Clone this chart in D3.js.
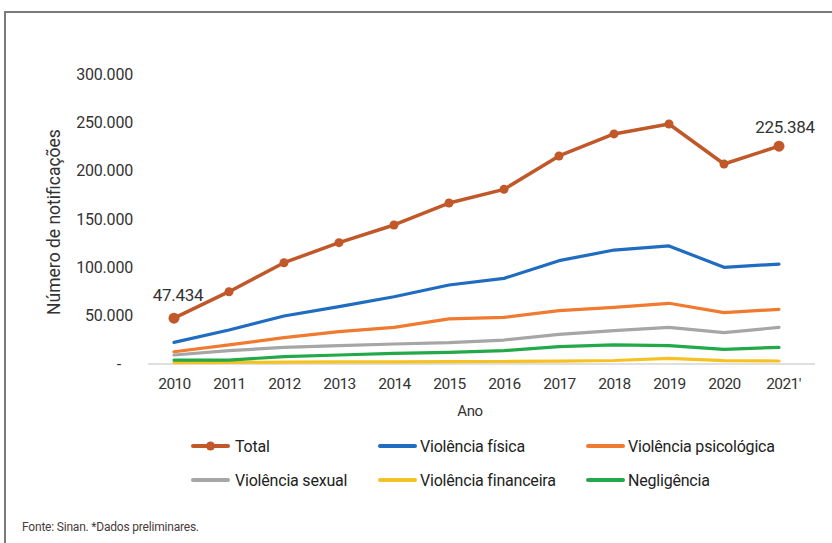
<!DOCTYPE html>
<html><head><meta charset="utf-8">
<script src="https://cdn.jsdelivr.net/npm/d3@7"></script>
<style>
html,body{margin:0;padding:0;background:#fff;}
svg{display:block;font-family:Roboto, "Noto Sans", sans-serif;}
</style></head>
<body>
<svg id="chart" width="832" height="543"></svg>
<script>
const years = ["2010","2011","2012","2013","2014","2015","2016","2017","2018","2019","2020","2021'"];
const yTicks = [0,50000,100000,150000,200000,250000,300000];
const total       = [47434,74800,104800,125500,143800,166500,180700,215200,238000,248300,206900,225384];
const fisica      = [22400,35200,49700,59300,69600,81700,88600,106900,117900,122100,100000,103400];
const psicologica = [12700,19700,27200,33400,37900,46600,48300,55200,58600,62800,53100,56600];
const sexual      = [9300,13800,17200,19000,20700,22100,24800,30700,34500,37900,32400,37900];
const financeira  = [1500,1600,2000,2100,2300,2400,2600,3000,3600,5900,3400,3100];
const negligencia = [4100,4100,7600,9300,11000,12100,13800,17900,19700,19000,15200,17200];
const seriesNames = ["Total","Violência física","Violência psicológica","Violência sexual","Violência financeira","Negligência"];
const seriesColors = ["#C0582A","#1F6CC0","#F07B30","#A6A6A6","#F6C223","#23A84A"];
const seriesData = [total,fisica,psicologica,sexual,financeira,negligencia];

const svg = d3.select("#chart");
// frame
svg.append("path").attr("d","M5,543 V12 H832").attr("fill","none").attr("stroke","#7a7a7a").attr("stroke-width",2);

const x = d3.scalePoint().domain(years).range([174,779]);
const y = d3.scaleLinear().domain([0,300000]).range([364,74]);
const fmt = v => v===0 ? "-" : d3.format(",")(v).replace(/,/g,".");

// baseline
svg.append("line").attr("x1",148).attr("x2",815).attr("y1",y(0)).attr("y2",y(0))
  .attr("stroke","#d4d4d4").attr("stroke-width",1.5);

// y axis
const ya = svg.append("g").attr("transform","translate(133,0)")
  .call(d3.axisLeft(y).tickValues(yTicks).tickSize(0).tickPadding(0).tickFormat(fmt));
ya.select(".domain").remove();
ya.selectAll("text").attr("font-size",16).attr("fill","#333").attr("font-family","Roboto, sans-serif").attr("letter-spacing","-0.2");
ya.selectAll(".tick").filter(d=>d===0).select("text").attr("dx",-12);

// x axis
const xa = svg.append("g").attr("transform",`translate(0,${y(0)})`)
  .call(d3.axisBottom(x).tickSize(0).tickPadding(14));
xa.select(".domain").remove();
xa.selectAll("text").attr("font-size",15.5).attr("fill","#333").attr("font-family","Roboto, sans-serif").attr("letter-spacing","-0.6");
xa.selectAll(".tick").filter(d=>d==="2021'").select("text").attr("dx",4);

// axis titles
svg.append("text").attr("x",470).attr("y",416).attr("text-anchor","middle")
  .attr("font-size",15).attr("fill","#333").attr("letter-spacing","-0.4").text("Ano");
svg.append("text").attr("transform","translate(60,222) rotate(-90)").attr("text-anchor","middle")
  .attr("font-size",17.5).attr("fill","#333").text("Número de notificações");

// lines (draw in order bottom to top: total last)
const line = d3.line().x((d,i)=>x(years[i])).y(d=>y(d));
const order = [4,5,3,2,1,0];
order.forEach(k=>{
  svg.append("path").datum(seriesData[k]).attr("d",line)
    .attr("fill","none").attr("stroke",seriesColors[k])
    .attr("stroke-width", k===0?3.5:3.2).attr("stroke-linejoin","round").attr("stroke-linecap","round");
});
svg.selectAll("circle.pt").data(total).enter().append("circle").attr("class","pt")
  .attr("cx",(d,i)=>x(years[i])).attr("cy",d=>y(d))
  .attr("r",(d,i)=> (i===0||i===years.length-1)?5.5:4.5).attr("fill",seriesColors[0]);

// data labels
svg.append("text").attr("x",x(years[0])+4).attr("y",y(total[0])-17).attr("text-anchor","middle")
  .attr("font-size",17).attr("fill","#333").attr("letter-spacing","-0.3").text(fmt(total[0]));
svg.append("text").attr("x",x(years[11])+6).attr("y",y(total[11])-13).attr("text-anchor","middle")
  .attr("font-size",17).attr("fill","#333").attr("letter-spacing","-0.3").text(fmt(total[11]));

// legend
const legX = [193,380,588], legY = [446,480];
seriesNames.forEach((n,i)=>{
  const lx = legX[i%3], ly = legY[Math.floor(i/3)];
  const g = svg.append("g");
  g.append("line").attr("x1",lx).attr("x2",lx+35).attr("y1",ly).attr("y2",ly)
    .attr("stroke",seriesColors[i]).attr("stroke-width",4).attr("stroke-linecap","round");
  if(i===0) g.append("circle").attr("cx",lx+17.5).attr("cy",ly).attr("r",4.5).attr("fill",seriesColors[0]);
  g.append("text").attr("x",lx+(i%3===0?42:40)).attr("y",ly+5.5).attr("font-size",16)
    .attr("fill","#222").attr("letter-spacing","-0.2").text(n);
});

// footer
svg.append("text").attr("x",22).attr("y",531).attr("font-size",12).attr("fill","#4a3a3c")
  .attr("letter-spacing","-0.2").text("Fonte: Sinan. *Dados preliminares.");
</script>
</body></html>
